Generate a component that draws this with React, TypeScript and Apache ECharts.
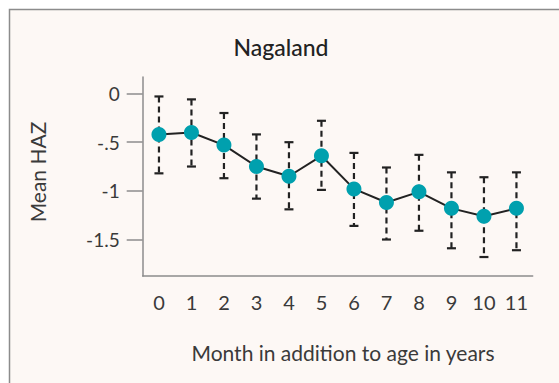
import React, { useEffect, useRef } from "react";
import * as echarts from "echarts";

const months = ["0", "1", "2", "3", "4", "5", "6", "7", "8", "9", "10", "11"];
const meanHAZ = [-0.42, -0.4, -0.53, -0.75, -0.85, -0.64, -0.98, -1.12, -1.01, -1.18, -1.26, -1.18];
const upperCI = [-0.03, -0.06, -0.2, -0.42, -0.5, -0.28, -0.61, -0.76, -0.63, -0.81, -0.86, -0.81];
const lowerCI = [-0.82, -0.75, -0.87, -1.08, -1.19, -0.99, -1.36, -1.5, -1.41, -1.59, -1.68, -1.61];
const yTicks = [0, -0.5, -1, -1.5];

const FONT = "Lato";
const GRAY = "#8c8c8c";
const TEXT = "#3a3a3a";

export default function App() {
  const ref = useRef<HTMLDivElement>(null);
  useEffect(() => {
    if (!ref.current) return;
    const chart = echarts.init(ref.current, undefined, { renderer: "svg" });
    const errData = months.map((_, i) => [i, upperCI[i], lowerCI[i]]);
    chart.setOption({
      animation: false,
      backgroundColor: "#ffffff",
      textStyle: { fontFamily: FONT },
      grid: { left: 142.7, right: 26.3, top: 77, bottom: 107, containLabel: false },
      graphic: [
        {
          type: "rect",
          z: -10,
          shape: { x: 9.5, y: 9.5, width: 600, height: 400 },
          style: { fill: "#fdf8f5", stroke: GRAY, lineWidth: 1.5 },
        },
        {
          type: "text",
          x: 281,
          y: 47,
          style: {
            text: "Nagaland",
            fontFamily: FONT,
            fontSize: 23,
            fontWeight: 500,
            fill: "#222",
            textAlign: "center",
            textVerticalAlign: "middle",
          },
        },
        {
          type: "text",
          x: 343,
          y: 352,
          style: {
            text: "Month in addition to age in years",
            fontFamily: FONT,
            fontSize: 21,
            fill: TEXT,
            textAlign: "center",
            textVerticalAlign: "middle",
          },
        },
        {
          type: "text",
          x: 37,
          y: 172,
          rotation: Math.PI / 2,
          style: {
            text: "Mean HAZ",
            fontFamily: FONT,
            fontSize: 21,
            fill: TEXT,
            textAlign: "center",
            textVerticalAlign: "middle",
          },
        },
      ],
      xAxis: {
        type: "category",
        data: months,
        boundaryGap: true,
        axisLine: { onZero: false, lineStyle: { color: GRAY, width: 1.5 } },
        axisTick: { alignWithLabel: true, length: 10, lineStyle: { color: GRAY, width: 1.5 } },
        axisLabel: { color: TEXT, fontSize: 20, fontFamily: FONT, margin: 16 },
        splitLine: { show: false },
      },
      yAxis: {
        type: "value",
        min: -1.875,
        max: 0.17,
        axisLine: { show: true, lineStyle: { color: GRAY, width: 1.5 } },
        axisTick: { show: true, length: 16, customValues: yTicks, lineStyle: { color: GRAY, width: 1.5 } },
        axisLabel: {
          show: true,
          customValues: yTicks,
          color: TEXT,
          fontSize: 19,
          fontFamily: FONT,
          margin: 23,
          formatter: (v: number) => (v === 0 ? "0" : String(v).replace("0.", ".")),
        },
        splitLine: { show: false },
      },
      series: [
        {
          type: "custom",
          z: 1,
          data: errData,
          renderItem: (params: any, api: any) => {
            const top = api.coord([api.value(0), api.value(1)]);
            const bot = api.coord([api.value(0), api.value(2)]);
            const hw = 4.5;
            const st = { stroke: "#222", lineWidth: 2.2 };
            return {
              type: "group",
              children: [
                { type: "line", shape: { x1: top[0], y1: top[1], x2: bot[0], y2: bot[1] }, style: { ...st, lineDash: [6, 4] } },
                { type: "line", shape: { x1: top[0] - hw, y1: top[1], x2: top[0] + hw, y2: top[1] }, style: st },
                { type: "line", shape: { x1: bot[0] - hw, y1: bot[1], x2: bot[0] + hw, y2: bot[1] }, style: st },
              ],
            };
          },
        },
        {
          type: "line",
          z: 3,
          data: meanHAZ,
          symbol: "circle",
          symbolSize: 15,
          itemStyle: { color: "#00a0ae", borderWidth: 0 },
          lineStyle: { color: "#222", width: 2 },
        },
      ],
    });
    return () => chart.dispose();
  }, []);
  return <div ref={ref} style={{ position: "fixed", left: 0, top: 0, width: 559, height: 383 }} />;
}
